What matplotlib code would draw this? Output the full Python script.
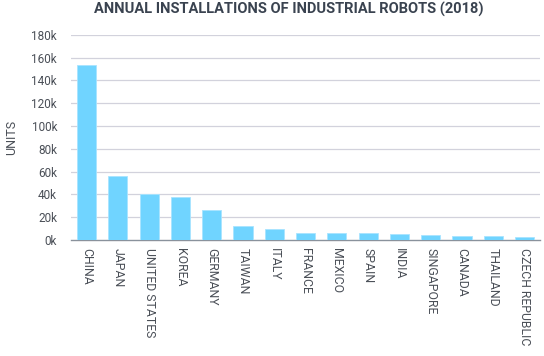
import matplotlib
matplotlib.use("Agg")
import matplotlib.pyplot as plt
import numpy as np
from matplotlib.ticker import FuncFormatter

countries = ["CHINA", "JAPAN", "UNITED STATES", "KOREA", "GERMANY", "TAIWAN",
             "ITALY", "FRANCE", "MEXICO", "SPAIN", "INDIA", "SINGAPORE",
             "CANADA", "THAILAND", "CZECH REPUBLIC"]
units = [154000, 55700, 40400, 38000, 26500, 12400, 10000, 5900, 5900, 5800,
         4800, 4700, 3700, 3600, 2600]
yticks = [0, 20000, 40000, 60000, 80000, 100000, 120000, 140000, 160000, 180000]

BAR = "#70d4ff"
GRID = "#d2d2dc"
TEXT = "#4a4f57"

plt.rcParams["font.family"] = ["Roboto", "DejaVu Sans"]

fig = plt.figure(figsize=(5.44, 3.56), dpi=100)
ax = fig.add_axes([0.1305, 0.326, 0.8625, 0.576])

x = np.arange(len(countries))
ax.bar(x, units, width=0.61, color=BAR, edgecolor="#a8e4ff", linewidth=0.6, zorder=3)

ax.set_xlim(-0.5, len(countries) - 0.5)
ax.set_ylim(0, 180000)
ax.set_yticks(yticks)
ax.yaxis.set_major_formatter(FuncFormatter(lambda v, p: f"{int(v / 1000)}k"))
ax.set_xticks(x, countries, rotation=270, fontsize=8.8, color=TEXT, va="top", ha="center")
ax.tick_params(axis="y", length=0, labelsize=8.5, labelcolor=TEXT, pad=10)
ax.tick_params(axis="x", length=0, pad=6)

for t in yticks[1:]:
    ax.axhline(t, color=GRID, linewidth=0.9, zorder=1)

for s in ["top", "right", "left"]:
    ax.spines[s].set_visible(False)
ax.spines["bottom"].set_color("#8a929c")
ax.spines["bottom"].set_linewidth(1.0)

ax.set_ylabel("UNITS", fontsize=9, color=TEXT, labelpad=10)
ax.yaxis.set_label_coords(-0.112, 0.5)

fig.text(0.53, 0.972, "ANNUAL INSTALLATIONS OF INDUSTRIAL ROBOTS (2018)",
         ha="center", va="center", fontsize=10.5, fontweight="bold", color="#3a4350")

fig.savefig("out.png", dpi=100)
